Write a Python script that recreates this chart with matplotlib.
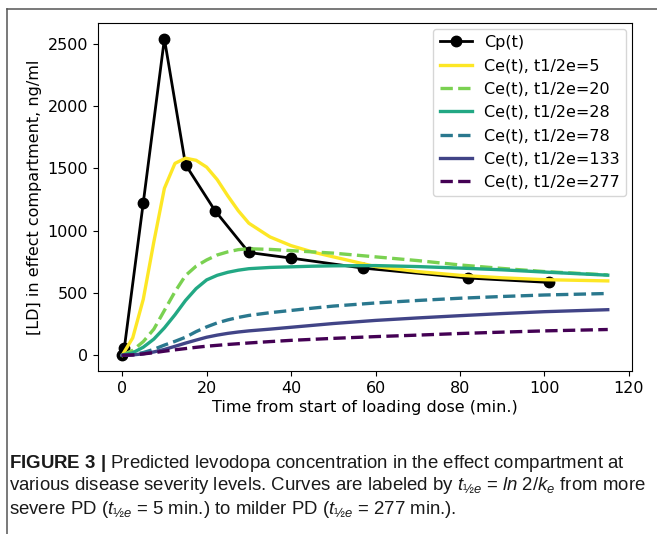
import matplotlib
matplotlib.use('Agg')
import matplotlib.pyplot as plt
from matplotlib.lines import Line2D

# values
cp_t = [0, 0.5, 5, 10, 15, 22, 30, 40, 57, 82, 101]
cp_v = [0, 55, 1225, 2540, 1530, 1160, 825, 780, 700, 620, 585]

ce_t = [0, 2.5, 5, 7.5, 10, 12.5, 15, 17.5, 20, 22.5, 25, 27.5, 30, 35, 40, 45, 50, 60, 70, 80, 90, 100, 115]
ce_5 = [0, 140, 450, 910, 1340, 1540, 1582, 1565, 1510, 1410, 1280, 1160, 1060, 950, 880, 830, 790, 712, 672, 642, 622, 607, 597]
ce_20 = [0, 40, 110, 210, 360, 510, 640, 715, 765, 805, 830, 848, 855, 850, 840, 830, 820, 790, 760, 725, 697, 672, 645]
ce_28 = [0, 20, 65, 130, 220, 325, 440, 535, 605, 642, 666, 683, 695, 705, 710, 715, 718, 720, 712, 700, 686, 668, 643]
ce_78 = [0, 5, 22, 48, 82, 112, 145, 190, 228, 260, 284, 304, 320, 342, 360, 378, 395, 420, 440, 458, 472, 484, 496]
ce_133 = [0, 3, 12, 27, 47, 72, 98, 122, 145, 162, 176, 187, 196, 210, 225, 240, 255, 280, 300, 318, 335, 350, 366]
ce_277 = [0, 3, 11, 21, 33, 44, 54, 64, 73, 80, 87, 93, 99, 110, 120, 128, 136, 150, 162, 175, 186, 196, 207]

labels = ['Ce(t), t1/2e=5', 'Ce(t), t1/2e=20', 'Ce(t), t1/2e=28',
          'Ce(t), t1/2e=78', 'Ce(t), t1/2e=133', 'Ce(t), t1/2e=277']
colors = ['#fde725', '#7ad151', '#22a884', '#2a788e', '#414487', '#440154']
styles = ['-', '--', '-', '--', '-', '--']

plt.rcParams['mathtext.fontset'] = 'custom'
plt.rcParams['mathtext.rm'] = 'Liberation Sans'
plt.rcParams['mathtext.it'] = 'Liberation Sans:italic'
plt.rcParams['mathtext.bf'] = 'Liberation Sans:bold'

fig = plt.figure(figsize=(6.57, 5.34), dpi=100)
ax = fig.add_axes([0.149, 0.305, 0.813, 0.652])

ax.plot(cp_t, cp_v, color='black', linewidth=2, marker='o', markersize=7.5, label='Cp(t)')
for vals, lab, col, ls in zip([ce_5, ce_20, ce_28, ce_78, ce_133, ce_277], labels, colors, styles):
    ax.plot(ce_t, vals, color=col, linestyle=ls, linewidth=2.4, label=lab)

ax.set_xticks([0, 20, 40, 60, 80, 100, 120])
ax.set_yticks([0, 500, 1000, 1500, 2000, 2500])
ax.tick_params(labelsize=11.5)
ax.set_xlabel('Time from start of loading dose (min.)', fontsize=11.5, labelpad=3)
ax.set_ylabel('[LD] in effect compartment, ng/ml', fontsize=11.5)
ax.legend(loc='upper right', fontsize=11.5, labelspacing=0.52, borderaxespad=0.35)

# frame around the figure panel
fig.add_artist(Line2D([7 / 657, 1], [1 - 8.5 / 534, 1 - 8.5 / 534], transform=fig.transFigure,
                      color='#555555', linewidth=1.1))
fig.add_artist(Line2D([7 / 657, 7 / 657], [0, 1 - 8.5 / 534], transform=fig.transFigure,
                      color='#555555', linewidth=1.1))

cap = dict(fontsize=13.4, family=['Liberation Sans Narrow', 'Liberation Sans', 'DejaVu Sans'],
           color='#1a1a1a', va='center', ha='left')
fig.text(9 / 657, 1 - 463 / 534,
         r'$\mathbf{FIGURE\ 3\ |}$ Predicted levodopa concentration in the effect compartment at', **cap)
fig.text(9 / 657, 1 - 486 / 534,
         r'various disease severity levels. Curves are labeled by $t_{½e}$ = $\mathit{ln}$ 2/$k_e$ from more', **cap)
fig.text(9 / 657, 1 - 509 / 534,
         r'severe PD ($t_{½e}$ = 5 min.) to milder PD ($t_{½e}$ = 277 min.).', **cap)

plt.savefig('out.png', dpi=100)
